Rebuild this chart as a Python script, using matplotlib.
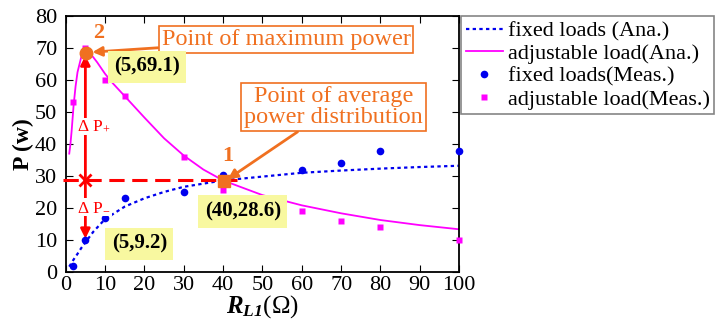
import matplotlib
matplotlib.use('Agg')
import matplotlib.pyplot as plt

plt.rcParams['font.family'] = ['Liberation Serif', 'DejaVu Serif']
plt.rcParams['mathtext.fontset'] = 'custom'
plt.rcParams['mathtext.rm'] = 'Liberation Serif'
plt.rcParams['mathtext.it'] = 'Liberation Serif:italic'
plt.rcParams['mathtext.bf'] = 'Liberation Serif:bold:italic'

# measured points
r_meas = [1.8, 5, 10, 15, 30, 40, 60, 70, 80, 100]
p_fixed_meas = [1.9, 9.9, 16.7, 23.0, 24.9, 30.3, 31.9, 34.0, 37.9, 37.9]
p_adj_meas = [53.1, 70.2, 60.0, 55.1, 36.0, 25.6, 19.1, 16.0, 13.9, 9.9]

# analytical curves
r_fixed_ana = [0.9, 1.5, 2, 3, 4, 5, 7, 10, 15, 20, 25, 30, 40, 50, 60, 70, 80, 90, 100]
p_fixed_ana = [1.6, 2.8, 3.8, 5.6, 7.5, 9.2, 12.5, 16.5, 20.4, 23.0, 25.0, 26.6, 28.6,
               29.8, 31.0, 31.7, 32.3, 32.8, 33.2]
r_adj_ana = [0.9, 1.2, 1.5, 2, 2.5, 3, 4, 5, 6, 7, 8, 10, 12, 15, 20, 25, 30, 35, 40,
             50, 60, 70, 80, 90, 100]
p_adj_ana = [37, 40, 44, 52, 58, 62.5, 67.5, 69.1, 68.6, 67.2, 65.6, 62.0, 59.0, 55.0,
             48.3, 41.8, 36.4, 32.0, 28.6, 24.0, 20.8, 18.3, 16.2, 14.6, 13.3]

max_pt = (5, 69.1)
min_pt = (5, 9.2)
avg_pt = (40, 28.6)

fig = plt.figure(figsize=(7.22, 3.27), dpi=100)
ax = fig.add_axes([0.091, 0.169, 0.545, 0.781])

ax.plot(r_fixed_ana, p_fixed_ana, color='#0000ee', lw=1.6, linestyle=(0, (1.5, 1.5)),
        label='fixed loads (Ana.)')
ax.plot(r_adj_ana, p_adj_ana, color='#ff00ff', lw=1.3, label='adjustable load(Ana.)')
ax.plot(r_meas, p_fixed_meas, 'o', color='#0000ee', ms=5.5, mec='none',
        label='fixed loads(Meas.)', clip_on=False, zorder=4)
ax.plot(r_meas, p_adj_meas, 's', color='#ff00ff', ms=5, mec='none',
        label='adjustable load(Meas.)', clip_on=False, zorder=4)

# red dashed level and delta-P arrows
ax.plot([-0.8, 43.5], [avg_pt[1], avg_pt[1]], color='red', lw=2.2,
        linestyle=(0, (5, 2.5)), clip_on=False, zorder=3)
ax.annotate('', xy=(max_pt[0], max_pt[1] - 0.5), xytext=(5, avg_pt[1]),
            arrowprops=dict(arrowstyle='-|>', color='red', lw=2, mutation_scale=14))
ax.annotate('', xy=(min_pt[0], min_pt[1] + 0.3), xytext=(5, avg_pt[1]),
            arrowprops=dict(arrowstyle='-|>', color='red', lw=2, mutation_scale=14))
ax.plot([5], [avg_pt[1]], 'x', color='red', ms=9, mew=2, zorder=5)
ax.text(7.2, 45.5, r'$\Delta$ P$_{+}$', color='red', fontsize=12.5, ha='center', va='center',
        bbox=dict(facecolor='white', edgecolor='none', pad=0.5), zorder=5)
ax.text(7.2, 20.3, r'$\Delta$ P$_{-}$', color='red', fontsize=12.5, ha='center', va='center',
        bbox=dict(facecolor='white', edgecolor='none', pad=0.5), zorder=5)

# highlighted points
orange = '#f07020'
ax.plot([5.1], [68.6], 'o', color=orange, ms=9, zorder=6)
ax.plot([40.3], [28.3], 's', color=orange, ms=9, zorder=6)
ax.text(8.3, 74.9, '2', color=orange, fontsize=16, fontweight='bold', ha='center', va='center')
ax.text(41.2, 36.1, '1', color=orange, fontsize=16, fontweight='bold', ha='center', va='center')

ax.annotate('Point of maximum power', xy=(6.8, 68.8), xytext=(56, 72.8),
            color=orange, fontsize=17.5, ha='center', va='center',
            bbox=dict(boxstyle='square,pad=0.12', facecolor='white', edgecolor=orange, lw=1.2),
            arrowprops=dict(arrowstyle='-|>', color=orange, lw=2, mutation_scale=14,
                            shrinkA=0, shrinkB=0), zorder=7)
ax.annotate('Point of average\npower distribution', xy=(41.2, 29.0), xytext=(68.1, 51.5),
            color=orange, fontsize=17.5, ha='center', va='center', linespacing=1.0,
            bbox=dict(boxstyle='square,pad=0.12', facecolor='white', edgecolor=orange, lw=1.2),
            arrowprops=dict(arrowstyle='-|>', color=orange, lw=2, mutation_scale=14,
                            shrinkA=0, shrinkB=0), zorder=7)

yellow = '#f8f8a0'
for txt, (tx, ty) in [('(5,69.1)', (20.6, 64.2)), ('(40,28.6)', (45.0, 18.8)),
                      ('(5,9.2)', (18.7, 8.7))]:
    ax.text(tx, ty, txt, fontsize=15, fontweight='bold', ha='center', va='center',
            bbox=dict(boxstyle='square,pad=0.3', facecolor=yellow, edgecolor='none'), zorder=7)

ax.set_xlim(0, 100)
ax.set_ylim(0, 80)
ax.set_xticks(range(0, 101, 10))
ax.set_yticks(range(0, 81, 10))
ax.tick_params(direction='in', top=True, right=True, labelsize=16, length=5)
ax.tick_params(axis='x', pad=3)
ax.tick_params(axis='y', pad=6)
for s in ax.spines.values():
    s.set_linewidth(1.3)

ax.set_ylabel('P (w)', fontsize=17, fontweight='bold', labelpad=1)
ax.set_xlabel(r'$\mathbf{R}_{\mathbf{L1}}(\Omega)$', fontsize=18, labelpad=-1)

leg = ax.legend(loc='upper left', bbox_to_anchor=(1.005, 1.0), fontsize=16, frameon=True,
                fancybox=False, edgecolor='#666666', handlelength=1.7, handletextpad=0.2,
                borderpad=0.2, labelspacing=0.1, borderaxespad=0, markerscale=1.0)
leg.get_frame().set_linewidth(1.2)

fig.savefig('out.png', dpi=100)
